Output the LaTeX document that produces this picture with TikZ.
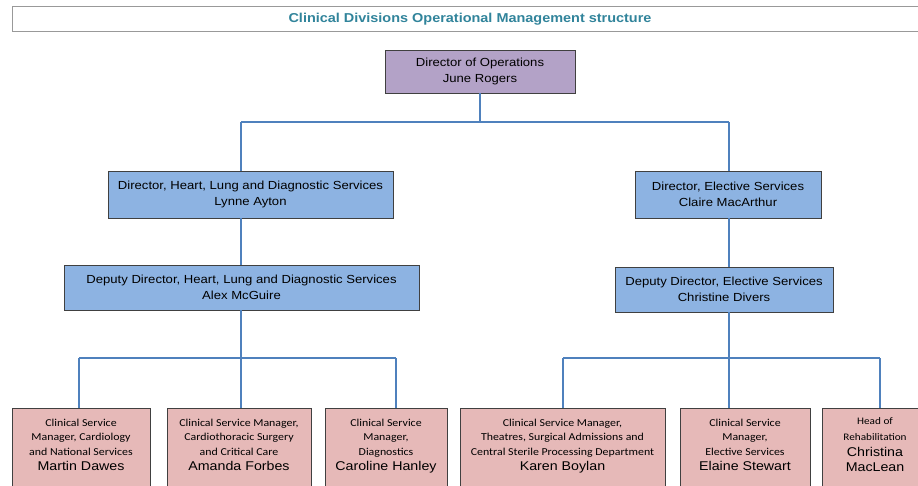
\documentclass[tikz,border=0pt]{standalone}
\usepackage{fontspec}
\setmainfont{Liberation Sans}[FakeStretch=1.12]
\newfontfamily\calfont{Carlito}[FakeStretch=1.12]
\usetikzlibrary{shadows}
\definecolor{ttl}{HTML}{31849B}
\definecolor{purp}{HTML}{B3A2C7}
\definecolor{blu}{HTML}{8DB3E2}
\definecolor{pnk}{HTML}{E6B9B8}
\definecolor{lin}{HTML}{4F81BD}
\definecolor{bord}{HTML}{404040}
\tikzset{
  box/.style={draw=bord, line width=0.9pt, inner sep=0pt, align=center,
    drop shadow={shadow xshift=1.2pt, shadow yshift=-1.2pt, opacity=0.35}},
  topbox/.style={box, font=\fontsize{11.7}{16}\selectfont},
  lowbox/.style={box, fill=pnk},
  lowtext/.style={anchor=north, inner sep=0pt, align=center},
  small/.style={font=\calfont\fontsize{10.6}{14.5}\selectfont},
  conn/.style={draw=lin, line width=1.4pt},
}
\newcommand{\pname}[1]{{\rmfamily\fontsize{12.7}{15}\selectfont #1}}
\begin{document}
\begin{tikzpicture}[x=1pt,y=-1pt]
\useasboundingbox (0,0) rectangle (918,486);
\clip (0,0) rectangle (918,486);
\fill[white] (0,0) rectangle (918,486);
% title
\node[draw=gray!80, line width=0.9pt, minimum width=918pt, minimum height=25pt, inner sep=0pt,
  drop shadow={shadow xshift=1.2pt, shadow yshift=-1.2pt, opacity=0.35}, fill=white] (title) at (471,18.5) {};
\node[text=ttl, font=\bfseries\fontsize{12.9}{14}\selectfont] (titletext) at (470,19.5) {Clinical Divisions Operational Management structure};
% top level
\node[topbox, fill=purp, minimum width=190pt, minimum height=43pt] (ops) at (480,71.5) {Director of Operations\\June Rogers};
\node[topbox, fill=blu, minimum width=285pt, minimum height=47pt] (lynne) at (250.5,194.5) {Director, Heart, Lung and Diagnostic Services\\Lynne Ayton};
\node[topbox, fill=blu, minimum width=355pt, minimum height=45pt] (alex) at (241.5,287.5) {Deputy Director, Heart, Lung and Diagnostic Services\\Alex McGuire};
\node[topbox, fill=blu, minimum width=186pt, minimum height=47pt] (claire) at (728,194.5) {Director, Elective Services\\Claire MacArthur};
\node[topbox, fill=blu, minimum width=218pt, minimum height=45pt] (christine) at (724,289.5) {Deputy Director, Elective Services\\Christine Divers};
% bottom boxes
\node[lowbox, minimum width=138pt, minimum height=92pt] (martin) at (81,454) {};
\node[lowbox, minimum width=144pt, minimum height=92pt] (amanda) at (239,454) {};
\node[lowbox, minimum width=122pt, minimum height=92pt] (caroline) at (386,454) {};
\node[lowbox, minimum width=205pt, minimum height=92pt] (karen) at (562.5,454) {};
\node[lowbox, minimum width=130pt, minimum height=92pt] (elaine) at (745,454) {};
\node[lowbox, minimum width=108pt, minimum height=92pt] (christina) at (876,454) {};
\node[lowtext, small] (tmartin) at ([yshift=-11pt]martin.north) {Clinical Service\\Manager, Cardiology\\and National Services\\[1pt]\pname{Martin Dawes}};
\node[lowtext, small] (tamanda) at ([yshift=-11pt]amanda.north) {Clinical Service Manager,\\Cardiothoracic Surgery\\and Critical Care\\[1pt]\pname{Amanda Forbes}};
\node[lowtext, small] (tcaroline) at ([yshift=-11pt]caroline.north) {Clinical Service\\Manager,\\Diagnostics\\[1pt]\pname{Caroline Hanley}};
\node[lowtext, small] (tkaren) at ([yshift=-11pt]karen.north) {Clinical Service Manager,\\Theatres, Surgical Admissions and\\Central Sterile Processing Department\\[1pt]\pname{Karen Boylan}};
\node[lowtext, small] (telaine) at ([yshift=-11pt]elaine.north) {Clinical Service\\Manager,\\Elective Services\\[1pt]\pname{Elaine Stewart}};
\node[lowtext, small, font=\calfont\fontsize{10}{14.5}\selectfont] (tchristina) at ([xshift=-1pt,yshift=-10pt]christina.north) {Head of\\[1.5pt]Rehabilitation\\[1.5pt]\pname{Christina}\\[0.5pt]\pname{MacLean}};
% junctions
\coordinate (j0) at (480,122);
\coordinate (jl) at (241,122);
\coordinate (jr) at (729,122);
\coordinate (hl) at (241,358);
\coordinate (hl1) at (79,358);
\coordinate (hl3) at (396,358);
\coordinate (hr) at (729,358);
\coordinate (hr1) at (563,358);
\coordinate (hr3) at (880,358);
% connectors
\draw[conn] (ops.south) -- (j0);
\draw[conn] (jl) -- (jr);
\draw[conn] (jl) -- (jl |- lynne.north);
\draw[conn] (jr) -- (jr |- claire.north);
\draw[conn] (jl |- lynne.south) -- (jl |- alex.north);
\draw[conn] (jr |- claire.south) -- (jr |- christine.north);
\draw[conn] (jl |- alex.south) -- (hl);
\draw[conn] (hl1) -- (hl3);
\draw[conn] (hl1) -- (hl1 |- martin.north);
\draw[conn] (hl) -- (hl |- amanda.north);
\draw[conn] (hl3) -- (hl3 |- caroline.north);
\draw[conn] (jr |- christine.south) -- (hr);
\draw[conn] (hr1) -- (hr3);
\draw[conn] (hr1) -- (hr1 |- karen.north);
\draw[conn] (hr) -- (hr |- elaine.north);
\draw[conn] (hr3) -- (hr3 |- christina.north);
\end{tikzpicture}
\end{document}
